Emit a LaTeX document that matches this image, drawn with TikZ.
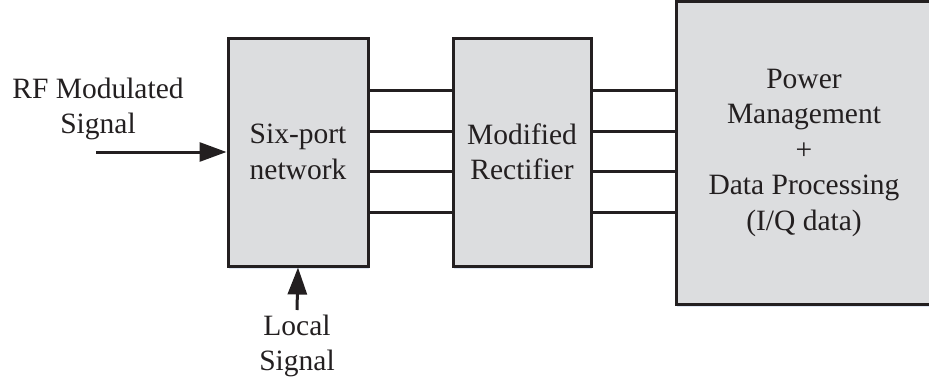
\documentclass[tikz,border=0pt]{standalone}
\usepackage{fontspec}
\setmainfont{Liberation Serif}
\usetikzlibrary{arrows.meta,shadows}
\definecolor{ink}{HTML}{231F20}
\definecolor{boxfill}{HTML}{DCDDDF}
\definecolor{shade}{HTML}{D6E0F0}
\tikzset{
  x=1pt, y=-1pt,
  lbl/.style={font=\fontsize{29.5}{35.5}\selectfont, text=ink, align=center, inner sep=0pt},
  blk/.style={lbl, draw=ink, line width=3pt, fill=boxfill,
    drop shadow={shadow xshift=1pt, shadow yshift=-2.5pt, fill=shade, opacity=0.8}},
  wire/.style={draw=ink, line width=3pt},
  arr/.style={wire, -{Triangle[length=27pt, width=19pt]}}
}
\begin{document}
\begin{tikzpicture}
\useasboundingbox (0,0) rectangle (929,383);
\begin{scope}
\clip (0,0) rectangle (929,383);
\node[blk, minimum width=140pt, minimum height=228pt] (six) at (298,152) {Six-port\\network};
\node[blk, minimum width=138pt, minimum height=228pt] (rect) at (522,152) {Modified\\Rectifier};
\node[blk, minimum width=256pt, minimum height=303pt] (pow) at (804,152.5) {Power\\Management\\+\\Data Processing\\(I/Q data)};
\end{scope}
\node[lbl] (rf) at (98,109) {RF Modulated\\Signal};
\node[lbl] (lo) at (297,346) {Local\\Signal};
\coordinate (rfstart) at (96,152);
\coordinate (lostart) at (297,310);
\draw[arr] (rfstart) -- (six.west |- rfstart);
\draw[arr] (lostart) -- (six.south);
\foreach \yy/\n in {90/a,131/b,171/c,212/d}{
  \draw[wire] (six.east |- 0,\yy) -- (rect.west |- 0,\yy);
  \draw[wire] (rect.east |- 0,\yy) -- (pow.west |- 0,\yy);
}
\end{tikzpicture}
\end{document}
